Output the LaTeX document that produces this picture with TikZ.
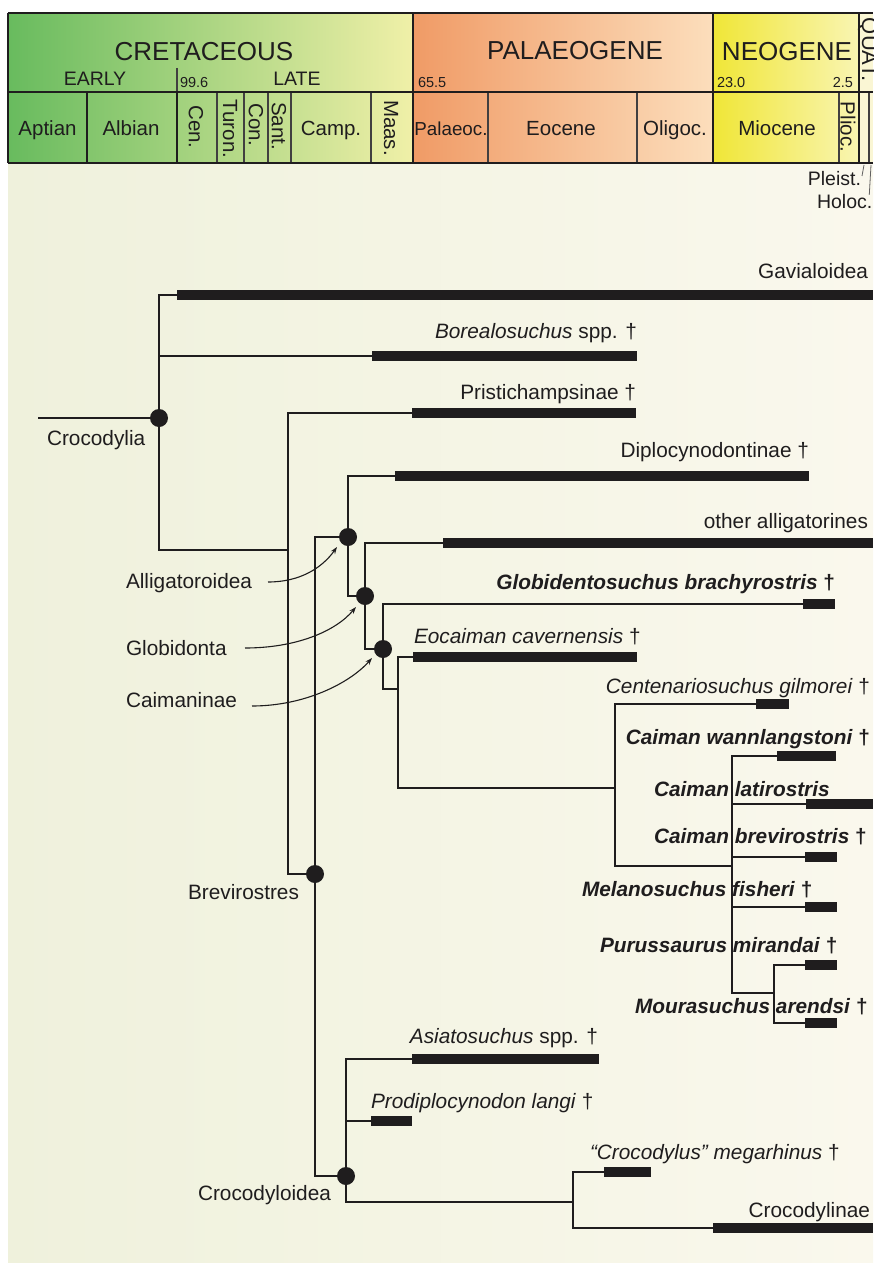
\documentclass[tikz,border=0pt]{standalone}
\usepackage{fontspec}
\setmainfont{Liberation Sans}
\usetikzlibrary{arrows.meta}
\definecolor{ink}{HTML}{1F1D1E}
\definecolor{bgl}{RGB}{239,241,220}
\definecolor{bgr}{RGB}{250,248,237}
\definecolor{crL}{RGB}{104,187,94}
\definecolor{crR}{RGB}{240,240,168}
\definecolor{paL}{RGB}{240,155,102}
\definecolor{paR}{RGB}{252,222,188}
\definecolor{neL}{RGB}{240,230,55}
\definecolor{neR}{RGB}{249,245,178}
\definecolor{quat}{RGB}{250,246,212}
\begin{document}
\begin{tikzpicture}[x=1pt,y=-1pt,
  every node/.style={inner sep=0pt,outer sep=0pt,text=ink},
  tx/.style={font=\fontsize{20.8}{25}\selectfont},
  hd/.style={font=\fontsize{26}{30}\selectfont},
  sub/.style={font=\fontsize{19.5}{23}\selectfont},
  stg/.style={font=\fontsize{20.5}{24}\selectfont},
  stgr/.style={font=\fontsize{20.5}{24}\selectfont,rotate=-90},
  num/.style={font=\fontsize{14.5}{17}\selectfont},
  branch/.style={draw=ink,line width=2pt,line join=miter},
  bar/.style={draw=ink,line width=10pt,line cap=butt},
  dot/.style={circle,fill=ink,minimum size=18pt,inner sep=0pt},
  thickrule/.style={draw=ink,line width=2.4pt},
  midrule/.style={draw=ink,line width=1.7pt},
  thinrule/.style={draw=ink!85,line width=1.1pt},
  leader/.style={draw=ink!70,line width=0.8pt},
  ptr/.style={draw=ink,line width=1.1pt,-{Stealth[length=7pt,width=5pt]}}
]
\useasboundingbox (0,0) rectangle (873,1263);
\fill[white] (0,0) rectangle (873,1263);
\shade[left color=bgl,right color=bgr] (8,163) rectangle (873,1263);

% ---------- time scale header ----------
\shade[left color=crL,right color=crR] (8,13) rectangle (413,163);
\shade[left color=paL,right color=paR] (413,13) rectangle (713,163);
\shade[left color=neL,right color=neR] (713,13) rectangle (859,163);
\fill[quat] (859,13) rectangle (873,163);

\foreach \x in {217,244,268,291,371,488,637,839,869}
  \draw[thinrule] (\x,92) -- (\x,163);
\draw[midrule] (87,92) -- (87,163);
\draw[midrule] (177,92) -- (177,163);
\draw[thinrule] (177,68) -- (177,92);
\foreach \y in {13,92,163}
  \draw[thickrule] (8,\y) -- (873,\y);
\foreach \x in {8,413,713,859}
  \draw[thickrule] (\x,13) -- (\x,163);

\node[hd] (hCre) at (204,52) {CRETACEOUS};
\node[hd] (hPal) at (575,51) {PALAEOGENE};
\node[hd] (hNeo) at (787,52) {NEOGENE};
\node[font=\fontsize{22}{26}\selectfont,rotate=-90,anchor=base west] (hQua) at (862,18) {QUAT.};
\node[sub] (hEar) at (95,79) {EARLY};
\node[sub] (hLat) at (297,79) {LATE};
\node[num,anchor=base west] (n996) at (180,88) {99.6};
\node[num,anchor=base west] (n655) at (418,88) {65.5};
\node[num,anchor=base west] (n230) at (717,88) {23.0};
\node[num,anchor=base east] (n25) at (853,88) {2.5};

\node[stg,anchor=base] (sApt) at (47.5,135) {Aptian};
\node[stg,anchor=base] (sAlb) at (131,135) {Albian};
\node[stgr] (sCen) at (196,127) {Cen.};
\node[stgr] (sTur) at (230,129) {Turon.};
\node[stgr] (sCon) at (256,125) {Con.};
\node[stgr] (sSan) at (279,126) {Sant.};
\node[stg,anchor=base] (sCam) at (331,135) {Camp.};
\node[stgr] (sMaa) at (391,128) {Maas.};
\node[font=\fontsize{18.8}{22}\selectfont,anchor=base] (sPal) at (451,135) {Palaeoc.};
\node[stg,anchor=base] (sEoc) at (561,135) {Eocene};
\node[stg,anchor=base] (sOli) at (675,135) {Oligoc.};
\node[stg,anchor=base] (sMio) at (777,135) {Miocene};
\node[stgr] (sPli) at (848,127) {Plioc.};
\node[sub,anchor=base east] (sPle) at (861,185) {Pleist.};
\node[sub,anchor=base west] (sHol) at (817,208) {Holoc.};
\coordinate (plCol) at (864,165);
\coordinate (hoCol) at (871,165);
\draw[leader] ([xshift=1pt,yshift=9pt]sPle.base east) -- (plCol);
\draw[leader] ([xshift=-3pt,yshift=-1pt]sHol.north east) -- (hoCol);

% ---------- tree ----------
\node[dot] (crocodylia) at (159,418) {};
\node[dot] (brevirostres) at (315,874) {};
\node[dot] (alligatoroidea) at (348,537) {};
\node[dot] (globidonta) at (365,596) {};
\node[dot] (caimaninae) at (383,649) {};
\node[dot] (crocodyloidea) at (346,1176) {};

\coordinate (rootstem) at (38,418);
\coordinate (cTop) at (159,295);
\coordinate (cBot) at (159,550);
\coordinate (gavA) at (177,295); \coordinate (gavB) at (873,295);
\coordinate (borJ) at (159,356); \coordinate (borA) at (372,356); \coordinate (borB) at (637,356);
\coordinate (pTop) at (288,413); \coordinate (priA) at (412,413); \coordinate (priB) at (636,413);
\coordinate (pJ) at (288,550);
\coordinate (pBot) at (288,874);
\coordinate (bTop) at (315,537);
\coordinate (bBot) at (315,1176);
\coordinate (aTop) at (348,476); \coordinate (dipA) at (395,476); \coordinate (dipB) at (809,476);
\coordinate (aBot) at (348,596);
\coordinate (gTop) at (365,543); \coordinate (othA) at (443,543); \coordinate (othB) at (873,543);
\coordinate (gBot) at (365,649);
\coordinate (kTop) at (383,604); \coordinate (gloA) at (803,604); \coordinate (gloB) at (835,604);
\coordinate (kBot) at (383,689);
\coordinate (eJ) at (398,689);
\coordinate (eTop) at (398,657); \coordinate (eocA) at (413,657); \coordinate (eocB) at (637,657);
\coordinate (eBot) at (398,788);
\coordinate (mJ) at (615,788);
\coordinate (mTop) at (615,704); \coordinate (cenA) at (756,704); \coordinate (cenB) at (789,704);
\coordinate (mBot) at (615,866);
\coordinate (xJ) at (732,866);
\coordinate (xTop) at (732,756); \coordinate (wanA) at (777,756); \coordinate (wanB) at (836,756);
\coordinate (latJ) at (732,804); \coordinate (latA) at (806,804); \coordinate (latB) at (873,804);
\coordinate (breJ) at (732,857); \coordinate (breA) at (805,857); \coordinate (breB) at (837,857);
\coordinate (fisJ) at (732,907); \coordinate (fisA) at (805,907); \coordinate (fisB) at (837,907);
\coordinate (xBot) at (732,993);
\coordinate (uJ) at (774,993);
\coordinate (uTop) at (774,965); \coordinate (mirA) at (805,965); \coordinate (mirB) at (837,965);
\coordinate (uBot) at (774,1023); \coordinate (areA) at (805,1023); \coordinate (areB) at (837,1023);
\coordinate (yTop) at (346,1059); \coordinate (asiA) at (412,1059); \coordinate (asiB) at (599,1059);
\coordinate (proJ) at (346,1121); \coordinate (proA) at (371,1121); \coordinate (proB) at (412,1121);
\coordinate (yBot) at (346,1202);
\coordinate (zJ) at (573,1202);
\coordinate (zTop) at (573,1172); \coordinate (megA) at (604,1172); \coordinate (megB) at (651,1172);
\coordinate (zBot) at (573,1228); \coordinate (cylA) at (713,1228); \coordinate (cylB) at (873,1228);

\draw[branch] (rootstem) -- (crocodylia.center);
\draw[branch] (gavA) -- (cTop) -- (cBot) -- (pJ);
\draw[branch] (borJ) -- (borA);
\draw[branch] (priA) -- (pTop) -- (pBot) -- (brevirostres.center);
\draw[branch] (alligatoroidea.center) -- (bTop) -- (bBot) -- (crocodyloidea.center);
\draw[branch] (dipA) -- (aTop) -- (aBot) -- (globidonta.center);
\draw[branch] (othA) -- (gTop) -- (gBot) -- (caimaninae.center);
\draw[branch] (gloA) -- (kTop) -- (kBot) -- (eJ);
\draw[branch] (eocA) -- (eTop) -- (eBot) -- (mJ);
\draw[branch] (cenA) -- (mTop) -- (mBot) -- (xJ);
\draw[branch] (wanA) -- (xTop) -- (xBot) -- (uJ);
\draw[branch] (latJ) -- (latA);
\draw[branch] (breJ) -- (breA);
\draw[branch] (fisJ) -- (fisA);
\draw[branch] (mirA) -- (uTop) -- (uBot) -- (areA);
\draw[branch] (asiA) -- (yTop) -- (yBot) -- (zJ);
\draw[branch] (proJ) -- (proA);
\draw[branch] (megA) -- (zTop) -- (zBot) -- (cylA);

\foreach \a/\b in {gavA/gavB,borA/borB,priA/priB,dipA/dipB,othA/othB,gloA/gloB,eocA/eocB,cenA/cenB,wanA/wanB,latA/latB,breA/breB,fisA/fisB,mirA/mirB,areA/areB,asiA/asiB,proA/proB,megA/megB,cylA/cylB}
  \draw[bar] (\a) -- (\b);

% ---------- taxon labels ----------
\node[tx,anchor=base east] (lGav) at (868,278) {Gavialoidea};
\node[tx,anchor=base east] (lBor) at (637,338) {\textit{Borealosuchus} spp. †};
\node[tx,anchor=base east] (lPri) at (636,399) {Pristichampsinae †};
\node[tx,anchor=base east] (lDip) at (809,457) {Diplocynodontinae †};
\node[tx,anchor=base east] (lOth) at (868,528) {other alligatorines};
\node[tx,anchor=base east] (lGlo) at (835,589) {\textbf{\textit{Globidentosuchus brachyrostris} †}};
\node[tx,anchor=base west] (lEoc) at (414,643) {\textit{Eocaiman cavernensis} †};
\node[tx,anchor=base east] (lCen) at (870,693) {\textit{Centenariosuchus gilmorei} †};
\node[tx,anchor=base east] (lWan) at (870,744) {\textbf{\textit{Caiman wannlangstoni} †}};
\node[tx,anchor=base west] (lLat) at (654,796) {\textbf{\textit{Caiman latirostris}}};
\node[tx,anchor=base west] (lBre) at (654,843) {\textbf{\textit{Caiman brevirostris} †}};
\node[tx,anchor=base west] (lFis) at (582,896) {\textbf{\textit{Melanosuchus fisheri} †}};
\node[tx,anchor=base west] (lMir) at (600,952) {\textbf{\textit{Purussaurus mirandai} †}};
\node[tx,anchor=base west] (lAre) at (635,1013) {\textbf{\textit{Mourasuchus arendsi} †}};
\node[tx,anchor=base east] (lAsi) at (598,1043) {\textit{Asiatosuchus} spp. †};
\node[tx,anchor=base west] (lPro) at (371,1108) {\textit{Prodiplocynodon langi} †};
\node[tx,anchor=base west] (lMeg) at (590,1159) {\textit{“Crocodylus” megarhinus} †};
\node[tx,anchor=base east] (lCyl) at (870,1217) {Crocodylinae};

% ---------- clade labels ----------
\node[tx,anchor=base west] (lCroc) at (47,445) {Crocodylia};
\node[tx,anchor=base west] (lAll) at (126,588) {Alligatoroidea};
\node[tx,anchor=base west] (lGlb) at (126,655) {Globidonta};
\node[tx,anchor=base west] (lCai) at (126,707) {Caimaninae};
\node[tx,anchor=base west] (lBrv) at (188,899) {Brevirostres};
\node[tx,anchor=base west] (lCry) at (198,1200) {Crocodyloidea};

\coordinate (sAll) at (268,582);
\coordinate (sGlb) at (245,648);
\coordinate (sCai) at (252,706);
\draw[ptr] (sAll) .. controls (300,582) and (322,568) .. ([shift={(-11,10)}]alligatoroidea.center);
\draw[ptr] (sGlb) .. controls (295,648) and (335,632) .. ([shift={(-9,11)}]globidonta.center);
\draw[ptr] (sCai) .. controls (305,706) and (350,683) .. ([shift={(-11,9)}]caimaninae.center);
\end{tikzpicture}
\end{document}
